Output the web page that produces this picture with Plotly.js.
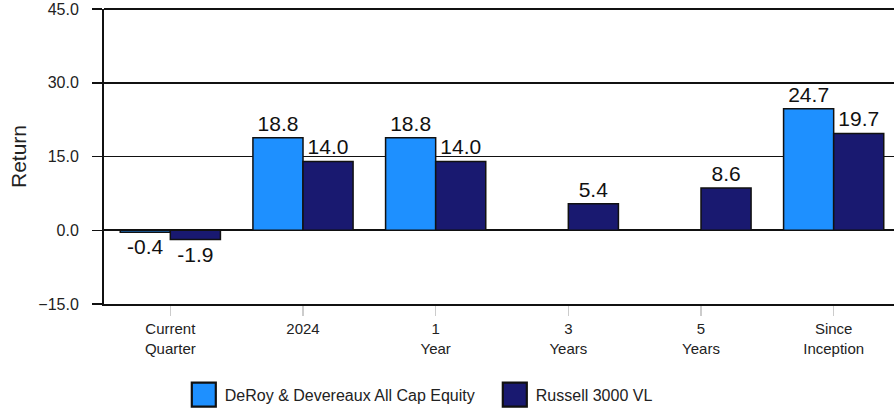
<!DOCTYPE html>
<html><head><meta charset="utf-8">
<script src="https://cdn.plot.ly/plotly-3.0.1.min.js"></script>
<style>html,body{margin:0;padding:0;overflow:hidden;background:#fff}#chart{width:900px;height:417px}</style>
</head><body><div id="chart"></div>
<script>
const categories = ["Current<br>Quarter", "2024", "1<br>Year", "3<br>Years", "5<br>Years", "Since<br>Inception"];
const fundName = "DeRoy & Devereaux All Cap Equity";
const benchName = "Russell 3000 VL";
const fundValues = [-0.4, 18.8, 18.8, null, null, 24.7];
const benchValues = [-1.9, 14.0, 14.0, 5.4, 8.6, 19.7];
const yTicks = [-15, 0, 15, 30, 45];

const FONT = 'Liberation Sans, Arial, sans-serif';
const common = {type: 'bar', textposition: 'outside', texttemplate: '%{y:.1f}', cliponaxis: false,
  textfont: {family: FONT, size: 21, color: '#111'}, hoverinfo: 'skip'};
const traces = [
  Object.assign({}, common, {x: categories, y: fundValues, name: fundName,
    marker: {color: '#1E90FF', line: {color: '#111', width: 1.5}}}),
  Object.assign({}, common, {x: categories, y: benchValues, name: benchName,
    marker: {color: '#191970', line: {color: '#111', width: 1.5}}})
];
const layout = {
  width: 900, height: 417,
  margin: {l: 104, r: 0, t: 9, b: 113},
  paper_bgcolor: '#fff', plot_bgcolor: '#fff',
  font: {family: FONT, size: 15, color: '#222'},
  barmode: 'group', bargap: 0.245, bargroupgap: 0,
  showlegend: true,
  legend: {orientation: 'h', x: 0.099, xanchor: 'left', y: -0.25, yanchor: 'top', font: {size: 16, color: '#222'},
    traceorder: 'normal', itemwidth: 32, entrywidth: 264, entrywidthmode: 'pixels'},
  xaxis: {type: 'category', ticks: 'outside', ticklen: 10, tickcolor: '#ccc', tickwidth: 1.5,
    showline: true, linecolor: '#111', linewidth: 2, mirror: false, showgrid: false,
    tickfont: {size: 15, color: '#222'}},
  yaxis: {range: [-15, 45], tickvals: yTicks, tickformat: '.1f', ticks: 'outside', ticklen: 10, tickcolor: '#111', tickwidth: 1.5,
    ticklabelstandoff: 10,
    showline: true, linecolor: '#111', linewidth: 2, showgrid: true, gridcolor: '#111', gridwidth: 1.5,
    zeroline: true, zerolinecolor: '#111', zerolinewidth: 2,
    tickfont: {size: 16, color: '#222'},
    title: {text: 'Return', font: {size: 21, color: '#222'}, standoff: 6}},
  shapes: [{type: 'line', xref: 'paper', yref: 'paper', x0: 0, x1: 1, y0: 1, y1: 1, line: {color: '#111', width: 2}}]
};
Plotly.newPlot('chart', traces, layout, {displayModeBar: false, staticPlot: true}).then(function (gd) {
  gd.querySelectorAll('.legend .legendpoints path').forEach(function (p) {
    p.setAttribute('transform', (p.getAttribute('transform') || '') + ' scale(2)');
    p.style.strokeWidth = '1.1px';
  });
});
</script></body></html>
